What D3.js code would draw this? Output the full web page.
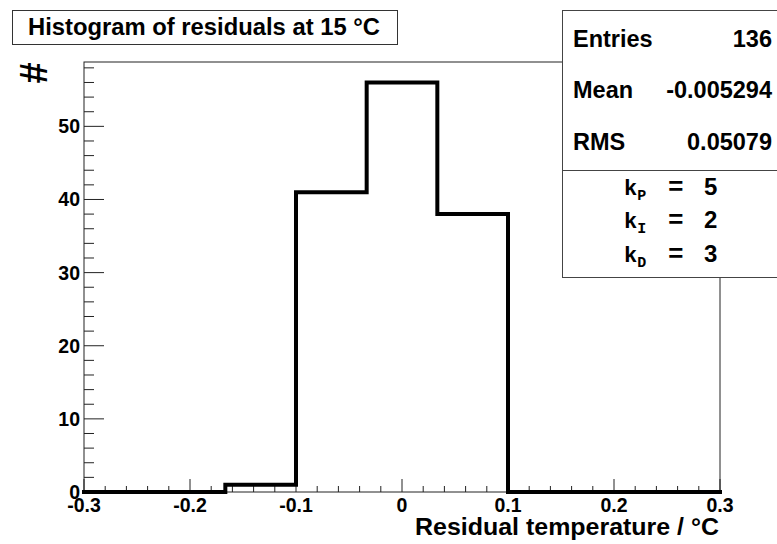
<!DOCTYPE html>
<html><head><meta charset="utf-8">
<script src="https://cdn.jsdelivr.net/npm/d3@7"></script>
<style>
html,body{margin:0;padding:0;background:#fff;}
svg{display:block;}
text{font-family:"Liberation Sans",Arial,Helvetica,sans-serif;font-weight:bold;fill:#000;}
.mono{font-family:"Liberation Mono","Courier New",monospace;font-weight:bold;}
</style></head>
<body>
<svg id="c" width="777" height="544"></svg>
<script>
// ---- data ----
const binEdges = [-0.3, -0.23333, -0.16667, -0.1, -0.03333, 0.03333, 0.1, 0.16667, 0.23333, 0.3];
const counts = [0, 0, 1, 41, 56, 38, 0, 0, 0];
const xTicks = [-0.3, -0.2, -0.1, 0, 0.1, 0.2, 0.3];
const xTickLabels = ["-0.3", "-0.2", "-0.1", "0", "0.1", "0.2", "0.3"];
const yTicks = [0, 10, 20, 30, 40, 50];
const statsLabels = ["Entries", "Mean", "RMS"];
const statsValues = ["136", "-0.005294", "0.05079"];
const gainNames = ["P", "I", "D"];
const gainValues = [5, 2, 3];
const titleText = "Histogram of residuals at 15 \u00B0C";
const xTitle = "Residual temperature / \u00B0C";
const yTitle = "#";

// ---- layout ----
const svg = d3.select("#c");
const L = 84, R = 720, T = 62, B = 492;
const yMax = d3.max(counts) * 1.05;
const x = d3.scaleLinear().domain([-0.3, 0.3]).range([L, R]);
const y = d3.scaleLinear().domain([0, yMax]).range([B, T]);
const axisCol = "#222";

// frame
svg.append("rect").attr("x", L).attr("y", T).attr("width", R - L).attr("height", B - T)
  .attr("fill", "none").attr("stroke", axisCol).attr("stroke-width", 1);

// x ticks
const xMinor = d3.range(-0.3, 0.3001, 0.02);
svg.append("g").selectAll("line").data(xMinor).join("line")
  .attr("x1", d => x(d)).attr("x2", d => x(d))
  .attr("y1", B).attr("y2", d => B - (Math.abs(Math.round(d * 50) % 5) === 0 ? 13 : 6))
  .attr("stroke", axisCol).attr("stroke-width", 1);
svg.append("g").selectAll("text").data(xTicks).join("text")
  .attr("x", d => x(d)).attr("y", 512).attr("text-anchor", "middle")
  .attr("font-size", 19.5).text((d, i) => xTickLabels[i]);

// y ticks
const yMinor = d3.range(0, yMax, 2);
svg.append("g").selectAll("line").data(yMinor).join("line")
  .attr("x1", L).attr("x2", d => L + (d % 10 === 0 ? 20 : 10))
  .attr("y1", d => y(d)).attr("y2", d => y(d))
  .attr("stroke", axisCol).attr("stroke-width", 1);
svg.append("g").selectAll("text").data(yTicks).join("text")
  .attr("x", 80).attr("y", d => y(d) + 7).attr("text-anchor", "end")
  .attr("font-size", 19.5).text(d => d);

// histogram outline
const pts = counts.map((c, i) => [binEdges[i], c]);
pts.push([binEdges[binEdges.length - 1], counts[counts.length - 1]]);
const line = d3.line().x(d => x(d[0])).y(d => y(d[1])).curve(d3.curveStepAfter);
svg.append("path").attr("d", line(pts)).attr("fill", "none")
  .attr("stroke", "#000").attr("stroke-width", 4).attr("stroke-linejoin", "miter").attr("stroke-linecap", "square");

// axis titles
svg.append("text").attr("x", 719).attr("y", 535).attr("text-anchor", "end")
  .attr("font-size", 23).attr("textLength", 304).attr("lengthAdjust", "spacingAndGlyphs").text(xTitle);
svg.append("text").attr("transform", "translate(34,73) rotate(-90)")
  .attr("text-anchor", "middle").attr("dominant-baseline", "central")
  .attr("font-size", 38).text(yTitle);

// title box
svg.append("rect").attr("x", 12.5).attr("y", 10.5).attr("width", 385).attr("height", 34)
  .attr("fill", "#fff").attr("stroke", "#333").attr("stroke-width", 1);
svg.append("text").attr("x", 28).attr("y", 35)
  .attr("font-size", 23).attr("textLength", 352).attr("lengthAdjust", "spacingAndGlyphs").text(titleText);

// stats box
const sb = svg.append("g");
sb.append("rect").attr("x", 562.5).attr("y", 10.5).attr("width", 220).attr("height", 267)
  .attr("fill", "#fff").attr("stroke", "#444").attr("stroke-width", 1);
sb.append("line").attr("x1", 562).attr("x2", 777).attr("y1", 170.5).attr("y2", 170.5)
  .attr("stroke", "#444").attr("stroke-width", 1);
const rowY = [47, 98, 150];
sb.selectAll("text.lab").data(statsLabels).join("text").attr("class", "lab")
  .attr("x", 573).attr("y", (d, i) => rowY[i]).attr("font-size", 23.5).text(d => d);
sb.selectAll("text.val").data(statsValues).join("text").attr("class", "val")
  .attr("x", 772).attr("y", (d, i) => rowY[i]).attr("text-anchor", "end")
  .attr("font-size", 23.5).text(d => d);

const gY = [195, 228, 262];
gainNames.forEach((g, i) => {
  const t = sb.append("text").attr("class", "mono").attr("y", gY[i]).attr("font-size", 22);
  t.append("tspan").attr("x", 624).text("k");
  t.append("tspan").attr("dy", 5).attr("font-size", 15).text(g);
  t.append("tspan").attr("x", 668).attr("dy", -5).attr("font-size", 26).text("=");
  t.append("tspan").attr("x", 704).attr("font-size", 24).style("font-family", "'Liberation Sans',Arial,sans-serif").text(gainValues[i]);
});
</script>
</body></html>
